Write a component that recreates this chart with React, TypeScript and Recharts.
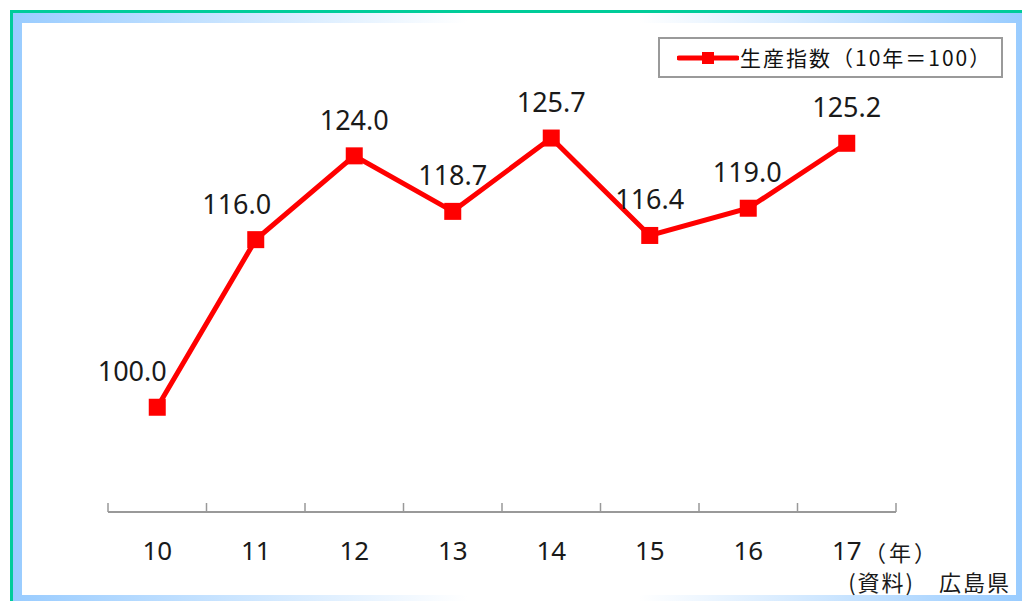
import { LineChart, Line, XAxis, YAxis } from 'recharts';

// 年（平成）
const years = [10, 11, 12, 13, 14, 15, 16, 17];
// 生産指数（10年＝100）
const indexValues = [100.0, 116.0, 124.0, 118.7, 125.7, 116.4, 119.0, 125.2];
const seriesName = '生産指数（10年＝100）';

// Excel-style tick marks sit between the categories
const boundaryTicks = [...years.map((y) => y - 0.5), years[years.length - 1] + 0.5];
const xDomain = [boundaryTicks[0], boundaryTicks[boundaryTicks.length - 1]];

// a couple of labels were nudged left in the original
const labelShift = [-25, -19, 0, 0, 0, 0, -1, 0];

const data = years.map((year, i) => ({ year, value: indexValues[i] }));

const RED = '#ff0000';
const FONT = '"Noto Sans", "Noto Sans CJK JP", sans-serif';
const CJK = '"Noto Sans CJK JP", "Noto Sans", sans-serif';

const SquareDot = ({ cx, cy }: any) => {
    if (cx == null || cy == null) return null;
    return <rect x={cx - 8.5} y={cy - 8.5} width={17} height={17} fill={RED} />;
};

const ValueLabel = ({ x, y, value, index }: any) => (
    <text
        x={x + (labelShift[index] ?? 0)}
        y={y - 26}
        textAnchor="middle"
        fontSize={27}
        fontFamily={FONT}
        fill="#1a1a1a"
    >
        {Number(value).toFixed(1)}
    </text>
);

const LegendBox = () => (
    <div
        style={{
            position: 'absolute',
            left: 658,
            top: 37,
            boxSizing: 'border-box',
            width: 345,
            height: 41,
            border: '2px solid #9a9a9a',
            background: '#fff',
            display: 'flex',
            alignItems: 'center',
            paddingLeft: 17,
        }}
    >
        <svg width={62} height={20}>
            <line x1={2} y1={10} x2={60} y2={10} stroke={RED} strokeWidth={5} strokeLinecap="round" />
            <rect x={25} y={4} width={12} height={12} fill={RED} />
        </svg>
        <span
            style={{
                fontFamily: CJK,
                fontSize: 21,
                letterSpacing: 2,
                color: '#111',
                marginLeft: 1,
                whiteSpace: 'nowrap',
                lineHeight: 1,
            }}
        >
            {seriesName}
        </span>
    </div>
);

export default function App() {
    return (
        <div
            style={{
                position: 'absolute',
                left: 0,
                top: 0,
                width: 1022,
                height: 601,
                background: '#fff',
                overflow: 'hidden',
            }}
        >
            <div
                style={{
                    position: 'absolute',
                    left: 10,
                    top: 10,
                    width: 1012,
                    height: 591,
                    boxSizing: 'border-box',
                    borderTop: '3px solid #00cc99',
                    borderLeft: '3px solid #00cc99',
                    background:
                        'linear-gradient(to right, #99ccff 0%, #ffffff 45%, #ffffff 62%, #99ccff 100%)',
                }}
            />
            <div
                style={{
                    position: 'absolute',
                    left: 22,
                    top: 23,
                    width: 994,
                    height: 572,
                    background: '#fff',
                }}
            />
            <LineChart
                width={1022}
                height={601}
                data={data}
                margin={{ top: 93, right: 126, bottom: 29, left: 108 }}
                style={{ position: 'absolute', left: 0, top: 0 }}
            >
                <XAxis
                    xAxisId="b_labels"
                    dataKey="year"
                    type="number"
                    domain={xDomain}
                    ticks={years}
                    height={59}
                    axisLine={false}
                    tickLine={false}
                    tickSize={0}
                    tickMargin={29}
                    interval={0}
                    allowDataOverflow
                    tick={{ fill: '#1a1a1a', fontSize: 26, fontFamily: FONT }}
                />
                <XAxis
                    xAxisId="a_marks"
                    dataKey="year"
                    type="number"
                    domain={xDomain}
                    ticks={boundaryTicks}
                    height={1}
                    interval={0}
                    allowDataOverflow
                    axisLine={{ stroke: '#999', strokeWidth: 2 }}
                    tickLine={{ stroke: '#999', strokeWidth: 1.5 }}
                    tickSize={-9}
                    tick={() => <g />}
                />
                <YAxis hide domain={[90, 130]} />
                <Line
                    xAxisId="b_labels"
                    dataKey="value"
                    name={seriesName}
                    stroke={RED}
                    strokeWidth={5}
                    dot={<SquareDot />}
                    activeDot={false}
                    label={<ValueLabel />}
                    isAnimationActive={false}
                />
            </LineChart>
            <LegendBox />
            <div
                style={{
                    position: 'absolute',
                    left: 864,
                    top: 540,
                    fontFamily: CJK,
                    fontSize: 22,
                    letterSpacing: 3,
                    lineHeight: 1,
                    color: '#1a1a1a',
                    whiteSpace: 'nowrap',
                }}
            >
                （年）
            </div>
            <div
                style={{
                    position: 'absolute',
                    right: 1022 - 1011,
                    top: 570,
                    fontFamily: CJK,
                    fontSize: 22,
                    letterSpacing: 2,
                    lineHeight: 1,
                    color: '#1a1a1a',
                    whiteSpace: 'nowrap',
                }}
            >
                (資料)　広島県
            </div>
        </div>
    );
}
